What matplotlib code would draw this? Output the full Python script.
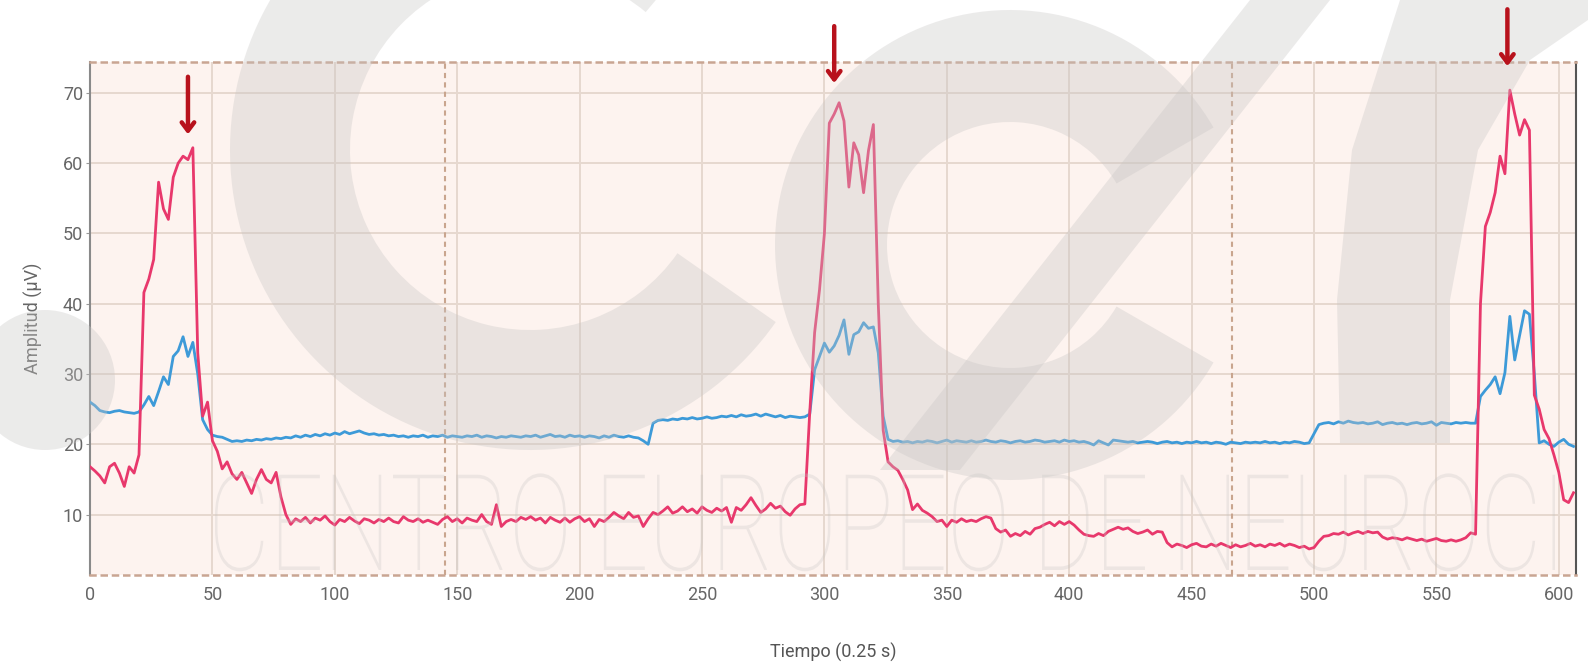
import numpy as np
import matplotlib
matplotlib.use("Agg")
from matplotlib import pyplot as plt
from matplotlib.patches import Wedge, Polygon, PathPatch, Circle
from matplotlib.textpath import TextPath
from matplotlib.font_manager import FontProperties
from matplotlib.transforms import Affine2D

# time axis, one sample every 2 units (0.25 s each)
tiempo = np.arange(0, 607, 2)

# red trace
rojo = [
    16.8, 16.2, 15.5, 14.5, 16.8, 17.3, 15.9, 14.0, 16.8, 15.9,
    18.5, 41.6, 43.5, 46.3, 57.3, 53.5, 52.0, 58.0, 60.0, 61.0,
    60.5, 62.2, 33.0, 24.0, 26.0, 20.5, 19.0, 16.5, 17.5, 15.8,
    15.0, 16.0, 14.5, 13.0, 15.0, 16.4, 15.0, 14.5, 16.0, 12.5,
    10.0, 8.6, 9.4, 9.0, 9.6, 8.8, 9.5, 9.2, 9.8, 9.0,
    8.5, 9.3, 9.0, 9.6, 9.1, 8.7, 9.4, 9.2, 8.8, 9.3,
    9.0, 9.5, 9.0, 8.8, 9.7, 9.2, 9.0, 9.4, 8.9, 9.2,
    8.9, 8.6, 9.3, 9.7, 9.0, 9.4, 8.8, 9.5, 9.2, 9.0,
    10.0, 9.0, 8.6, 11.4, 8.3, 9.0, 9.3, 9.0, 9.6, 9.3,
    9.7, 9.2, 9.5, 8.8, 9.6, 9.2, 8.9, 9.5, 8.9, 9.4,
    9.7, 9.0, 9.4, 8.3, 9.3, 9.0, 9.6, 10.3, 9.8, 9.4,
    10.3, 9.6, 9.8, 8.3, 9.4, 10.3, 10.0, 10.5, 11.1, 10.2,
    10.5, 11.1, 10.4, 10.8, 10.2, 11.1, 10.6, 10.3, 10.9, 10.5,
    11.0, 8.9, 11.0, 10.6, 11.4, 12.4, 11.3, 10.3, 10.8, 11.6,
    10.9, 11.2, 10.4, 9.9, 10.8, 11.4, 11.5, 24.5, 35.9, 42.0,
    50.0, 65.7, 67.0, 68.6, 66.0, 56.6, 62.9, 61.2, 55.8, 61.8,
    65.5, 40.0, 22.0, 17.5, 16.8, 16.3, 15.0, 13.5, 10.7, 11.5,
    10.6, 10.2, 9.7, 9.0, 9.2, 8.3, 9.2, 8.9, 9.4, 9.0,
    9.2, 9.0, 9.4, 9.7, 9.5, 8.0, 7.5, 7.8, 6.9, 7.3,
    7.0, 7.6, 7.2, 8.0, 8.2, 8.6, 8.9, 8.4, 9.0, 8.6,
    9.0, 8.5, 7.8, 7.2, 7.0, 6.9, 7.3, 7.0, 7.6, 7.9,
    8.2, 7.9, 8.1, 7.6, 7.3, 7.5, 7.8, 7.2, 7.6, 7.5,
    6.0, 5.4, 5.8, 5.6, 5.3, 5.7, 5.9, 5.5, 5.4, 5.8,
    5.5, 5.9, 5.6, 5.3, 5.7, 5.4, 5.6, 5.9, 5.5, 5.7,
    5.4, 5.8, 5.6, 5.9, 5.5, 5.8, 5.6, 5.3, 5.5, 5.1,
    5.3, 6.2, 6.9, 7.0, 7.3, 7.2, 7.5, 7.1, 7.4, 7.6,
    7.3, 7.6, 7.4, 7.5, 6.8, 6.5, 6.7, 6.6, 6.4, 6.7,
    6.5, 6.3, 6.5, 6.2, 6.4, 6.6, 6.3, 6.2, 6.4, 6.2,
    6.4, 6.7, 7.4, 7.2, 40.0, 51.0, 53.0, 55.8, 61.0, 58.5,
    70.4, 67.0, 64.0, 66.2, 64.7, 27.0, 25.0, 22.1, 20.8, 18.5,
    16.0, 12.1, 11.7, 13.1,
]

# blue trace
azul = [
    26.0, 25.5, 24.8, 24.6, 24.5, 24.7, 24.8, 24.6, 24.5, 24.4,
    24.6, 25.6, 26.8, 25.5, 27.5, 29.6, 28.5, 32.5, 33.3, 35.3,
    32.5, 34.5, 30.0, 23.5, 22.1, 21.3, 21.1, 21.0, 20.7, 20.4,
    20.5, 20.4, 20.6, 20.5, 20.7, 20.6, 20.8, 20.7, 20.9, 20.8,
    21.0, 20.9, 21.2, 21.0, 21.3, 21.1, 21.4, 21.2, 21.5, 21.3,
    21.6, 21.4, 21.8, 21.5, 21.7, 21.9, 21.6, 21.4, 21.5, 21.3,
    21.4, 21.2, 21.3, 21.1, 21.2, 21.0, 21.2, 21.1, 21.3, 21.0,
    21.2, 21.1, 21.3, 21.0, 21.2, 21.1, 21.0, 21.2, 21.1, 21.3,
    21.0, 21.2, 21.1, 20.9, 21.1, 21.0, 21.2, 21.1, 21.0, 21.2,
    21.1, 21.3, 21.0, 21.2, 21.4, 21.1, 21.2, 21.0, 21.3, 21.1,
    21.2, 21.0, 21.2, 21.1, 20.9, 21.2, 21.0, 21.3, 21.1, 21.0,
    21.2, 21.0, 20.9, 20.5, 20.0, 23.0, 23.4, 23.5, 23.4, 23.6,
    23.5, 23.7, 23.6, 23.8, 23.6, 23.7, 23.9, 23.7, 23.8, 24.0,
    23.9, 24.1, 23.9, 24.2, 24.0, 24.1, 24.3, 24.0, 24.3, 24.1,
    23.9, 24.1, 23.8, 24.0, 23.9, 23.8, 23.9, 24.3, 30.6, 32.5,
    34.4, 33.1, 34.0, 35.5, 37.7, 32.8, 35.6, 36.0, 37.3, 36.5,
    36.7, 33.0, 24.0, 20.7, 20.4, 20.5, 20.3, 20.4, 20.2, 20.4,
    20.3, 20.5, 20.4, 20.2, 20.4, 20.6, 20.3, 20.5, 20.4, 20.3,
    20.5, 20.3, 20.4, 20.6, 20.4, 20.3, 20.5, 20.4, 20.2, 20.4,
    20.5, 20.3, 20.4, 20.6, 20.5, 20.3, 20.4, 20.5, 20.3, 20.6,
    20.4, 20.5, 20.3, 20.4, 20.2, 19.9, 20.5, 20.2, 19.9, 20.6,
    20.5, 20.4, 20.3, 20.4, 20.2, 20.3, 20.4, 20.3, 20.1, 20.3,
    20.4, 20.2, 20.3, 20.1, 20.3, 20.2, 20.4, 20.2, 20.3, 20.1,
    20.3, 20.2, 20.0, 20.3, 20.2, 20.1, 20.3, 20.2, 20.3, 20.2,
    20.4, 20.2, 20.3, 20.1, 20.3, 20.2, 20.4, 20.3, 20.1, 20.2,
    21.5, 22.8, 23.0, 23.1, 22.9, 23.2, 23.0, 23.3, 23.1, 23.0,
    23.1, 22.9, 23.0, 23.2, 22.8, 23.0, 23.1, 22.9, 23.0, 22.8,
    23.0, 23.1, 22.9, 23.0, 23.2, 22.7, 23.1, 23.0, 22.9, 23.1,
    23.0, 23.1, 23.0, 23.0, 26.8, 27.7, 28.5, 29.6, 27.2, 30.2,
    38.2, 32.0, 35.5, 39.0, 38.5, 30.0, 20.2, 20.5, 20.0, 19.7,
    20.3, 20.7, 20.0, 19.7,
]

# peaks marked with arrows: (x, arrow top, arrow tip)
flechas_x = [40, 304, 579]
flechas_top = [72.3, 79.5, 81.9]
flechas_tip = [64.1, 71.4, 73.8]

# vertical dashed separators
separadores = [145, 466.5]

plt.rcParams['font.family'] = ['Roboto', 'DejaVu Sans']

W, H = 1588, 671
fig = plt.figure(figsize=(W / 100, H / 100), dpi=100)
pos = [0.0567, 0.1431, 0.9357, 0.7645]
ax = fig.add_axes(pos)
ax.set_facecolor('#fdf3ef')

ax.set_xlim(0, 607)
ax.set_ylim(1.4, 74.4)
ax.set_xticks(np.arange(0, 601, 50))
ax.set_yticks(np.arange(10, 71, 10))
ax.grid(True, color='#e6d8cf', linewidth=1.4)
ax.set_axisbelow(True)

for xs in separadores:
    ax.axvline(xs, color='#c9a58e', linewidth=1.5, linestyle=(0, (2.5, 2)), zorder=1.5)

ax.plot(tiempo, azul, color='#3d9ad8', linewidth=2.0, zorder=3)
ax.plot(tiempo, rojo, color='#e8386c', linewidth=2.0, zorder=4)

for s in ['top', 'bottom']:
    ax.spines[s].set_color('#c9a592')
    ax.spines[s].set_linewidth(1.8)
    ax.spines[s].set_linestyle((0, (2, 2.5)))
ax.spines['left'].set_color('#8a8a8a')
ax.spines['left'].set_linewidth(1.5)
ax.spines['right'].set_color('#555555')
ax.spines['right'].set_linewidth(1.5)
ax.spines['right'].set_linestyle((0, (3, 1)))

ax.tick_params(axis='x', length=0, pad=8, labelsize=13, labelcolor='#666666')
ax.tick_params(axis='y', length=3, pad=2, labelsize=13, labelcolor='#666666', color='#999999')

ax.set_xlabel('Tiempo (0.25 s)', fontsize=13, color='#555555', labelpad=28)
ax.set_ylabel('Amplitud (μV)', fontsize=13, color='#666666', labelpad=14)

# faint logo watermark laid over the whole picture (pixel coords, y from top)
px = Affine2D().scale(1, -1).translate(0, H)
marca = dict(facecolor='#c8c6c5', edgecolor='none', alpha=0.35, transform=px, zorder=5)
fig.patches.append(Wedge((530, 150), 300, -325, -50, width=120, **marca))
fig.patches.append(Wedge((1010, 245), 235, -330, -30, width=112, **marca))
fig.patches.append(Polygon([(880, 470), (960, 470), (1330, 0), (1250, 0)], **marca))
fig.patches.append(Polygon([(1340, 443), (1337, 300), (1352, 150), (1400, 0),
                            (1588, 0), (1588, 20), (1530, 60), (1478, 150),
                            (1450, 300), (1450, 443)], **marca))
fig.patches.append(Circle((45, 380), 70, **marca))

fp = FontProperties(family='Roboto', weight='light')
tp = TextPath((0, 0), 'CENTRO EUROPEO DE NEUROCI', size=134, prop=fp)
bb = tp.get_extents()
t_letras = Affine2D().scale(1340 / bb.width, 1).translate(215 - bb.x0 * 1340 / bb.width, H - 570)
fig.patches.append(PathPatch(tp, facecolor='#c8c6c5', edgecolor='none', alpha=0.3,
                             transform=t_letras, zorder=5))

# arrows sit on a clear axes above the watermark
ax2 = fig.add_axes(pos, zorder=6)
ax2.set_xlim(ax.get_xlim())
ax2.set_ylim(ax.get_ylim())
ax2.axis('off')
for xa, yt, yp in zip(flechas_x, flechas_top, flechas_tip):
    ax2.annotate('', xy=(xa, yp), xytext=(xa, yt), annotation_clip=False,
                 arrowprops=dict(arrowstyle='->,head_length=0.6,head_width=0.45',
                                 color='#b8121c', lw=3.2, shrinkA=0, shrinkB=0))

fig.savefig('out.png', dpi=100, facecolor='white')
